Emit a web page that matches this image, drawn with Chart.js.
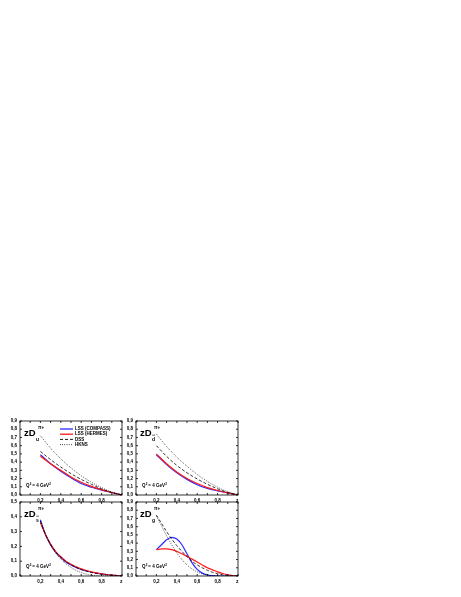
<!DOCTYPE html>
<html>
<head>
<meta charset="utf-8">
<script src="https://cdn.jsdelivr.net/npm/chart.js@4/dist/chart.umd.min.js"></script>
<style>
  body { margin: 0; background: #fff; width: 461px; height: 597px; position: relative; overflow: hidden; }
  canvas { position: absolute; }
</style>
</head>
<body>
<canvas id="cU" width="130" height="98" style="left:0;top:409px"></canvas>
<canvas id="cD" width="130" height="98" style="left:116px;top:409px"></canvas>
<canvas id="cS" width="130" height="98" style="left:0;top:490px"></canvas>
<canvas id="cG" width="130" height="98" style="left:116px;top:490px"></canvas>
<script>
'use strict';

// z grid of the curves
var zTop = [0.2, 0.3, 0.4, 0.5, 0.6, 0.7, 0.8, 0.9, 1.0];
var zBot = [0.2, 0.25, 0.3, 0.35, 0.4, 0.45, 0.5, 0.55, 0.6, 0.65, 0.7, 0.75, 0.8, 0.85, 0.9, 0.95, 1.0];

var seriesNames = ['LSS (COMPASS)', 'LSS (HERMES)', 'DSS', 'HKNS'];

// zD_u
var uCompass = [0.49, 0.38, 0.29, 0.21, 0.14, 0.095, 0.06, 0.03, 0.0];
var uHermes  = [0.47, 0.38, 0.30, 0.22, 0.155, 0.105, 0.065, 0.03, 0.0];
var uDss     = [0.53, 0.43, 0.34, 0.26, 0.19, 0.13, 0.075, 0.03, 0.0];
var uHkns    = [0.72, 0.57, 0.44, 0.33, 0.235, 0.155, 0.09, 0.035, 0.0];

// zD_dbar
var dCompass = [0.49, 0.37, 0.27, 0.19, 0.125, 0.08, 0.05, 0.025, 0.0];
var dHermes  = [0.50, 0.38, 0.28, 0.20, 0.14, 0.09, 0.055, 0.025, 0.0];
var dDss     = [0.60, 0.47, 0.36, 0.27, 0.195, 0.13, 0.075, 0.03, 0.0];
var dHkns    = [0.74, 0.59, 0.46, 0.35, 0.25, 0.165, 0.095, 0.04, 0.0];

// zD_sbar
var sCompass = [0.38, 0.28, 0.21, 0.16, 0.125, 0.095, 0.075, 0.058, 0.045, 0.035, 0.027, 0.02, 0.015, 0.01, 0.006, 0.003, 0.0];
var sHermes  = [0.36, 0.28, 0.215, 0.165, 0.13, 0.10, 0.08, 0.062, 0.048, 0.037, 0.028, 0.021, 0.015, 0.01, 0.006, 0.003, 0.0];
var sDss     = [0.37, 0.28, 0.215, 0.165, 0.128, 0.098, 0.076, 0.058, 0.044, 0.033, 0.024, 0.017, 0.011, 0.007, 0.004, 0.002, 0.0];
var sHkns    = [0.37, 0.28, 0.21, 0.155, 0.115, 0.083, 0.058, 0.038, 0.023, 0.012, 0.005, 0.002, 0.0, 0.0, 0.0, 0.0, 0.0];

// zD_g
var gCompass = [0.32, 0.38, 0.44, 0.47, 0.45, 0.38, 0.27, 0.16, 0.08, 0.035, 0.012, 0.004, 0.0, 0.0, 0.0, 0.0, 0.0];
var gHermes  = [0.32, 0.33, 0.33, 0.32, 0.30, 0.27, 0.24, 0.205, 0.17, 0.135, 0.10, 0.075, 0.05, 0.03, 0.015, 0.006, 0.0];
var gDss     = [0.74, 0.64, 0.54, 0.45, 0.37, 0.30, 0.235, 0.18, 0.135, 0.10, 0.07, 0.045, 0.028, 0.015, 0.007, 0.002, 0.0];
var gHkns    = [0.73, 0.61, 0.49, 0.38, 0.28, 0.20, 0.135, 0.085, 0.05, 0.025, 0.012, 0.004, 0.0, 0.0, 0.0, 0.0, 0.0];

var lineStyles = [
    { color: '#2a2aff', width: 1.2, dash: [] },
    { color: '#ff1a1a', width: 1.2, dash: [] },
    { color: '#000', width: 0.8, dash: [3, 2] },
    { color: '#000', width: 0.8, dash: [0.8, 1.4] }
];

var FONT = '"Liberation Sans", Arial, sans-serif';

function makeSets(z, lists) {
    return lists.map(function(vals, i) {
        var st = lineStyles[i];
        return {
            label: seriesNames[i],
            data: z.map(function(x, k) { return { x: x, y: vals[k] }; }),
            borderColor: st.color,
            borderWidth: st.width,
            borderDash: st.dash,
            pointRadius: 0,
            cubicInterpolationMode: 'monotone',
            fill: false
        };
    }).reverse();   // draw black first, coloured on top
}

function comma(v) { return v.toFixed(1).replace('.', ','); }

// frame, inward ticks, titles, legend
var panelPlugin = {
    id: 'panel',
    afterDraw: function(chart) {
        var o = chart.options.plugins.panel;
        var ctx = chart.ctx, a = chart.chartArea;
        var xs = chart.scales.x, ys = chart.scales.y;
        ctx.save();
        ctx.strokeStyle = '#000';
        ctx.lineWidth = 0.8;
        ctx.strokeRect(a.left, a.top, a.right - a.left, a.bottom - a.top);
        ctx.beginPath();
        xs.ticks.forEach(function(t) {
            var px = xs.getPixelForValue(t.value);
            ctx.moveTo(px, a.bottom); ctx.lineTo(px, a.bottom - 2);
            ctx.moveTo(px, a.top); ctx.lineTo(px, a.top + 2);
        });
        ys.ticks.forEach(function(t) {
            var py = ys.getPixelForValue(t.value);
            ctx.moveTo(a.left, py); ctx.lineTo(a.left + 2, py);
            ctx.moveTo(a.right, py); ctx.lineTo(a.right - 2, py);
        });
        ctx.stroke();

        // zD title
        ctx.fillStyle = '#000';
        ctx.textBaseline = 'alphabetic';
        ctx.font = 'bold 9.5px ' + FONT;
        var tx = a.left + 4, ty = a.top + 15;
        ctx.fillText('zD', tx, ty);
        var w = ctx.measureText('zD').width;
        ctx.font = 'bold 5px ' + FONT;
        ctx.fillText(o.sub, tx + w + 0.5, ty + 4.5);
        if (o.bar) {
            var sw = ctx.measureText(o.sub).width;
            ctx.fillRect(tx + w + 0.5, ty - 1.2, sw, 0.6);
        }
        ctx.font = 'bold 4.5px ' + FONT;
        ctx.fillText('\u03c0+', tx + w + 2.5, ty - 7);

        // Q^2 label
        ctx.font = 'bold 4.5px ' + FONT;
        var qx = a.left + 6, qy = a.bottom - 8;
        ctx.fillText('Q', qx, qy);
        var qw = ctx.measureText('Q').width;
        ctx.font = 'bold 3px ' + FONT;
        ctx.fillText('2', qx + qw + 0.3, qy - 2.5);
        ctx.font = 'bold 4.5px ' + FONT;
        ctx.fillText(' = 4 GeV', qx + qw + 1.5, qy);
        var gw = ctx.measureText(' = 4 GeV').width;
        ctx.font = 'bold 3px ' + FONT;
        ctx.fillText('2', qx + qw + 1.8 + gw, qy - 2.5);

        if (o.zLabel) {
            ctx.font = 'bold 5px ' + FONT;
            ctx.fillText('z', a.right - 2, a.bottom + 7);
        }

        if (o.legend) {
            ctx.font = 'bold 4.5px ' + FONT;
            ctx.textBaseline = 'middle';
            var lx = a.left + 40, ly = a.top + 8;
            seriesNames.forEach(function(name, i) {
                var st = lineStyles[i];
                var yy = ly + i * 5.2;
                ctx.beginPath();
                ctx.strokeStyle = st.color;
                ctx.lineWidth = st.width > 1 ? 1.3 : 0.9;
                ctx.setLineDash(st.dash);
                ctx.moveTo(lx, yy); ctx.lineTo(lx + 13, yy);
                ctx.stroke();
                ctx.setLineDash([]);
                ctx.fillText(name, lx + 15, yy);
            });
        }
        ctx.restore();
    }
};

function panel(id, z, lists, yMax, opts) {
    new Chart(document.getElementById(id), {
        type: 'line',
        data: { datasets: makeSets(z, lists) },
        options: {
            responsive: false,
            animation: false,
            layout: { padding: { top: 12, right: 8, left: 0, bottom: 0 } },
            plugins: { legend: { display: false }, tooltip: { enabled: false }, panel: opts },
            scales: {
                x: {
                    type: 'linear', min: 0, max: 1.0,
                    afterFit: function(s) { s.height = 12; },
                    grid: { drawOnChartArea: false, drawTicks: false },
                    border: { display: false },
                    ticks: {
                        stepSize: 0.1, padding: 3, color: '#000',
                        font: { family: FONT, size: 4.5, weight: 'bold' },
                        maxRotation: 0, autoSkip: false,
                        callback: function(v) {
                            var r = Math.round(v * 10);
                            return (r >= 2 && r <= 8 && r % 2 === 0) ? comma(v) : '';
                        }
                    }
                },
                y: {
                    type: 'linear', min: 0, max: yMax,
                    afterFit: function(s) { s.width = 20; },
                    grid: { drawOnChartArea: false, drawTicks: false },
                    border: { display: false },
                    ticks: {
                        stepSize: 0.1, padding: 3, color: '#000',
                        font: { family: FONT, size: 4.5, weight: 'bold' },
                        autoSkip: false,
                        callback: function(v) { return comma(v); }
                    }
                }
            }
        },
        plugins: [panelPlugin]
    });
}

panel('cU', zTop, [uCompass, uHermes, uDss, uHkns], 0.9, { sub: 'u', legend: true });
panel('cD', zTop, [dCompass, dHermes, dDss, dHkns], 0.9, { sub: 'd', bar: true, zLabel: true });
panel('cS', zBot, [sCompass, sHermes, sDss, sHkns], 0.5, { sub: 's', bar: true, zLabel: true });
panel('cG', zBot, [gCompass, gHermes, gDss, gHkns], 0.9, { sub: 'g', zLabel: true });
</script>
</body>
</html>
